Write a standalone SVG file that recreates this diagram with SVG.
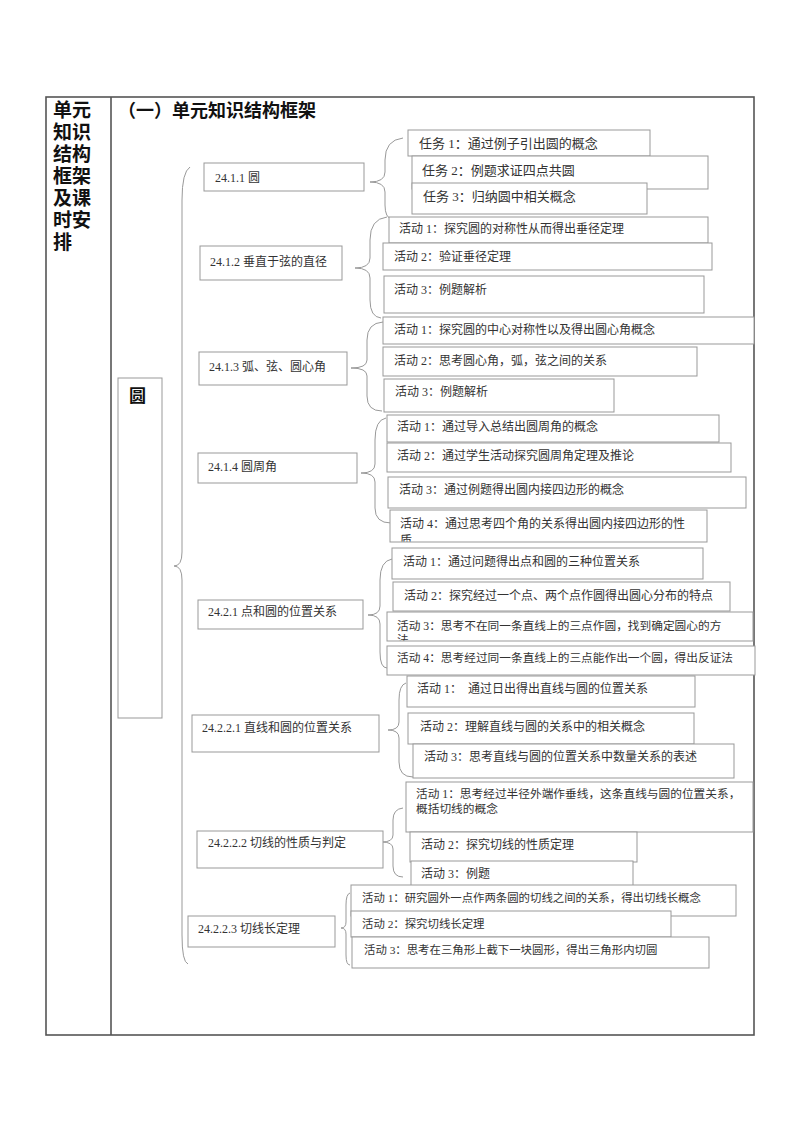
<svg xmlns="http://www.w3.org/2000/svg" width="800" height="1132" viewBox="0 0 800 1132">
<style>
.frame{fill:none;stroke:#555;stroke-width:1.6}
.box{fill:#fff;stroke:#999;stroke-width:1}
.br{fill:none;stroke:#999;stroke-width:1}
.t{font-family:"Liberation Serif","Noto Sans CJK SC",serif;font-size:12px;fill:#333}
.tk{font-family:"Liberation Serif","Noto Sans CJK SC",serif;font-size:13px;fill:#333}
.h{font-family:"Noto Sans CJK SC",sans-serif;font-weight:bold;font-size:18px;fill:#111}
.hl{font-family:"Liberation Sans","Noto Sans CJK SC",sans-serif;font-weight:bold;font-size:19px;fill:#111}
</style>
<defs>
<clipPath id="clipA4"><rect x="390" y="510" width="317" height="31.5"/></clipPath>
<clipPath id="clipP3"><rect x="387" y="612" width="366" height="28.5"/></clipPath>
</defs>
<rect width="800" height="1132" fill="#fff"/>
<g id="table">
<rect class="frame" x="46" y="97" width="708" height="938"/>
<line class="frame" x1="111" y1="97" x2="111" y2="1035"/>
<text class="hl" x="53" y="117"><tspan x="53" y="117">单元</tspan><tspan x="53" y="139">知识</tspan><tspan x="53" y="161">结构</tspan><tspan x="53" y="183">框架</tspan><tspan x="53" y="205">及课</tspan><tspan x="53" y="227">时安</tspan><tspan x="53" y="249">排</tspan></text>
<text class="h" x="118" y="117">（一）单元知识结构框架</text>
</g>
<g id="connectors">
<path class="br" d="M190,167 Q182,172 182,200 L182,552 Q182,566 174,566 Q182,566 182,580 L182,935 Q182,962 188,964"/>
<path class="br" d="M403,138 Q385,140 385,160 L385,172 Q385,182 370,182 Q385,182 385,192 L385,205 Q385,218 392,219"/>
<path class="br" d="M387,217 Q370,219 370,240 L370,258 Q370,268 355,268 Q370,268 370,278 L370,300 Q370,317 381,318"/>
<path class="br" d="M383,322 Q367,323 367,340 L367,360 Q367,368 351,368 Q367,368 367,376 L367,396 Q367,411 382,411"/>
<path class="br" d="M386,418 Q375,420 375,440 L375,464 Q375,473 361,473 Q375,473 375,482 L375,508 Q375,523 391,523"/>
<path class="br" d="M392,559 Q380,561 380,580 L380,606 Q380,615 368,615 Q380,615 380,624 L380,652 Q380,668 387,668"/>
<path class="br" d="M406,683 Q399,685 399,700 L399,722 Q399,730 388,730 Q399,730 399,738 L399,762 Q399,777 413,777"/>
<path class="br" d="M403,808 Q393,809 393,820 L393,835 Q393,842 382,842 Q393,842 393,849 L393,866 Q393,877 403,877"/>
<path class="br" d="M350,893 Q346,894 346,905 L346,922 Q346,928 341,928 Q346,928 346,934 L346,955 Q346,965 350,965"/>
</g>
<g id="root">
<rect class="box" x="118" y="378" width="44" height="340"/>
<text class="h" x="129" y="402" style="font-size:17px">圆</text>
</g>
<g id="n2411">
<rect class="box" x="204" y="163" width="160" height="28"/>
<text class="t" x="215" y="182">24.1.1 圆</text>
</g>
<g id="n2411-t1"><rect class="box" x="408" y="130" width="242" height="26"/><text class="tk" x="419" y="148">任务 1：通过例子引出圆的概念</text></g>
<g id="n2411-t2"><rect class="box" x="412" y="156" width="296" height="33"/><text class="tk" x="422" y="175">任务 2：例题求证四点共圆</text></g>
<g id="n2411-t3"><rect class="box" x="412" y="183" width="235" height="31"/><text class="tk" x="423" y="201">任务 3：归纳圆中相关概念</text></g>
<g id="n2412">
<rect class="box" x="200" y="246" width="142" height="34"/>
<text class="t" x="210" y="266">24.1.2 垂直于弦的直径</text>
</g>
<g id="n2412-a1"><rect class="box" x="389" y="217" width="319" height="26"/><text class="t" x="399" y="233">活动 1：探究圆的对称性从而得出垂径定理</text></g>
<g id="n2412-a2"><rect class="box" x="383" y="243" width="329" height="27"/><text class="t" x="394" y="261">活动 2：验证垂径定理</text></g>
<g id="n2412-a3"><rect class="box" x="384" y="276" width="320" height="37"/><text class="t" x="394" y="294">活动 3：例题解析</text></g>
<g id="n2413">
<rect class="box" x="199" y="352" width="148" height="33"/>
<text class="t" x="209" y="371">24.1.3 弧、弦、圆心角</text>
</g>
<g id="n2413-a1"><rect class="box" x="383" y="317" width="371" height="27"/><text class="t" x="394" y="334">活动 1：探究圆的中心对称性以及得出圆心角概念</text></g>
<g id="n2413-a2"><rect class="box" x="383" y="347" width="314" height="29"/><text class="t" x="394" y="365">活动 2：思考圆心角，弧，弦之间的关系</text></g>
<g id="n2413-a3"><rect class="box" x="384" y="379" width="230" height="33"/><text class="t" x="395" y="396">活动 3：例题解析</text></g>
<g id="n2414">
<rect class="box" x="198" y="453" width="159" height="30"/>
<text class="t" x="208" y="471">24.1.4 圆周角</text>
</g>
<g id="n2414-a1"><rect class="box" x="387" y="415" width="332" height="27"/><text class="t" x="397" y="431">活动 1：通过导入总结出圆周角的概念</text></g>
<g id="n2414-a2"><rect class="box" x="387" y="443" width="344" height="29"/><text class="t" x="397" y="460">活动 2：通过学生活动探究圆周角定理及推论</text></g>
<g id="n2414-a3"><rect class="box" x="388" y="477" width="358" height="31"/><text class="t" x="399" y="494">活动 3：通过例题得出圆内接四边形的概念</text></g>
<g id="n2414-a4"><rect class="box" x="390" y="510" width="317" height="32"/><text class="t" x="400" y="528">活动 4：通过思考四个角的关系得出圆内接四边形的性</text><text class="t" x="400" y="545" clip-path="url(#clipA4)">质</text></g>
<g id="n2421">
<rect class="box" x="198" y="600" width="165" height="29"/>
<text class="t" x="208" y="616">24.2.1 点和圆的位置关系</text>
</g>
<g id="n2421-a1"><rect class="box" x="392" y="548" width="311" height="31"/><text class="t" x="403" y="566">活动 1：通过问题得出点和圆的三种位置关系</text></g>
<g id="n2421-a2"><rect class="box" x="393" y="582" width="337" height="29"/><text class="t" x="404" y="600">活动 2：探究经过一个点、两个点作圆得出圆心分布的特点</text></g>
<g id="n2421-a3"><rect class="box" x="387" y="612" width="366" height="29"/><text class="t" x="397" y="630" style="font-size:11.7px">活动 3：思考不在同一条直线上的三点作圆，找到确定圆心的方</text><text class="t" x="397" y="644" style="font-size:11.7px" clip-path="url(#clipP3)">法</text></g>
<g id="n2421-a4"><rect class="box" x="387" y="646" width="368" height="29"/><text class="t" x="397" y="662" style="font-size:11.7px">活动 4：思考经过同一条直线上的三点能作出一个圆，得出反证法</text></g>
<g id="n24221">
<rect class="box" x="192" y="715" width="187" height="37"/>
<text class="t" x="202" y="732">24.2.2.1 直线和圆的位置关系</text>
</g>
<g id="n24221-a1"><rect class="box" x="407" y="676" width="288" height="31"/><text class="t" x="417" y="693" xml:space="preserve">活动 1：  通过日出得出直线与圆的位置关系</text></g>
<g id="n24221-a2"><rect class="box" x="408" y="713" width="286" height="31"/><text class="t" x="420" y="731">活动 2：理解直线与圆的关系中的相关概念</text></g>
<g id="n24221-a3"><rect class="box" x="413" y="744" width="321" height="34"/><text class="t" x="424" y="761">活动 3：思考直线与圆的位置关系中数量关系的表述</text></g>
<g id="n24222">
<rect class="box" x="197" y="831" width="186" height="37"/>
<text class="t" x="208" y="847">24.2.2.2 切线的性质与判定</text>
</g>
<g id="n24222-a1"><rect class="box" x="406" y="782" width="347" height="50"/><text class="t" x="416" y="798" style="font-size:11.7px">活动 1：思考经过半径外端作垂线，这条直线与圆的位置关系，</text><text class="t" x="416" y="813" style="font-size:11.7px">概括切线的概念</text></g>
<g id="n24222-a2"><rect class="box" x="410" y="832" width="227" height="30"/><text class="t" x="421" y="849">活动 2：探究切线的性质定理</text></g>
<g id="n24222-a3"><rect class="box" x="411" y="861" width="222" height="29"/><text class="t" x="421" y="878">活动 3：例题</text></g>
<g id="n24223">
<rect class="box" x="188" y="916" width="147" height="31"/>
<text class="t" x="198" y="933">24.2.2.3 切线长定理</text>
</g>
<g id="n24223-a1"><rect class="box" x="351" y="885" width="385" height="31"/><text class="t" x="362" y="902" style="font-size:11.4px">活动 1：研究圆外一点作两条圆的切线之间的关系，得出切线长概念</text></g>
<g id="n24223-a2"><rect class="box" x="351" y="911" width="320" height="26"/><text class="t" x="362" y="928" style="font-size:11.4px">活动 2：探究切线长定理</text></g>
<g id="n24223-a3"><rect class="box" x="352" y="937" width="357" height="31"/><text class="t" x="364" y="954" style="font-size:11.4px">活动 3：思考在三角形上截下一块圆形，得出三角形内切圆</text></g>
</svg>
